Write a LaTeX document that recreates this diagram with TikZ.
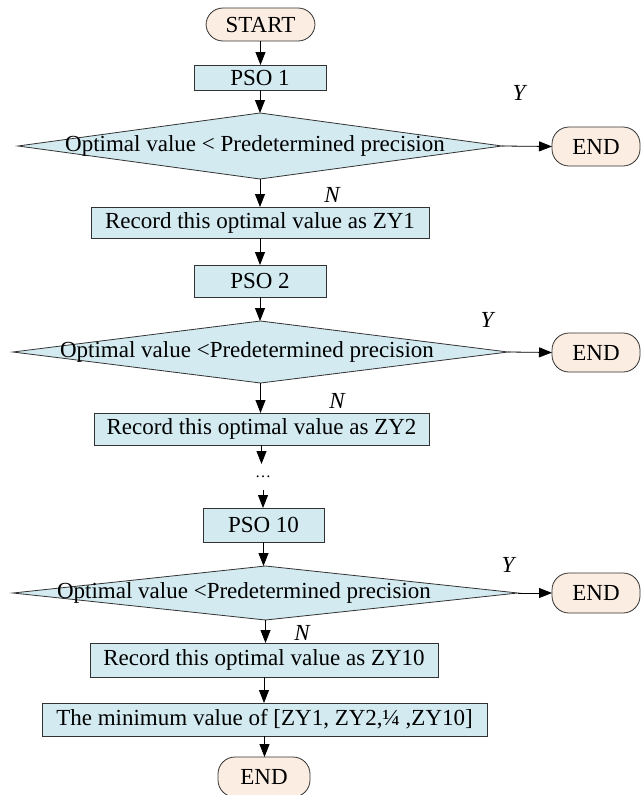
\documentclass[tikz,border=0pt]{standalone}
\usepackage{fontspec}
\setmainfont{Liberation Serif}
\usetikzlibrary{arrows.meta,shapes.geometric}
\definecolor{boxblue}{RGB}{210,234,240}
\definecolor{termpeach}{RGB}{252,237,226}
\definecolor{edge}{RGB}{50,50,50}
\begin{document}
\begin{tikzpicture}[x=1pt,y=-1pt,
  font=\fontsize{23}{26}\selectfont,
  every node/.style={inner sep=0pt, outer sep=0pt},
  procbox/.style={draw=edge, line width=0.8pt, fill=boxblue, rectangle},
  termbox/.style={draw=edge, line width=0.8pt, fill=termpeach, rectangle, rounded corners=17pt},
  decision/.style={draw=edge, line width=0.8pt, fill=boxblue, diamond},
  flowarrow/.style={draw=black, line width=0.8pt, -{Triangle[length=13pt,width=10pt]}},
  branchlbl/.style={font=\fontsize{23}{26}\selectfont\itshape}
]
\useasboundingbox (0,0) rectangle (641,795);

% main column
\node[termbox, minimum width=109pt, minimum height=33pt] (start) at (260.5,24.5) {START};
\node[procbox, minimum width=132pt, minimum height=25pt] (pso1) at (260,77.5) {PSO 1};

\node[decision, minimum width=484pt, minimum height=66pt] (d1) at (260,146) {};
\node (d1t) at (255,146) {Optimal value < Predetermined precision};
\node[termbox, minimum width=88pt, minimum height=39pt] (end1) at (596,146.5) {END};

\node[procbox, minimum width=338pt, minimum height=31pt] (rec1) at (260,222.5) {Record this optimal value as ZY1};
\node[procbox, minimum width=132pt, minimum height=32pt] (pso2) at (260,281) {PSO 2};

\node[decision, minimum width=495pt, minimum height=62pt] (d2) at (260.5,352) {};
\node (d2t) at (247,352) {Optimal value <Predetermined precision};
\node[termbox, minimum width=88pt, minimum height=39pt] (end2) at (596,352.5) {END};

\node[procbox, minimum width=335pt, minimum height=32pt] (rec2) at (261.5,429) {Record this optimal value as ZY2};

\node[minimum height=26pt, font=\fontsize{16}{18}\selectfont] (dots) at (263,477) {\ldots};

\node[procbox, minimum width=121pt, minimum height=34pt] (pso10) at (263.5,525) {PSO 10};

\node[decision, minimum width=505pt, minimum height=54pt] (d3) at (265.5,593) {};
\node (d3t) at (244,593) {Optimal value <Predetermined precision};
\node[termbox, minimum width=88pt, minimum height=40pt] (end3) at (596,593) {END};

\node[procbox, minimum width=348pt, minimum height=34pt] (rec3) at (264,660) {Record this optimal value as ZY10};
\node[procbox, minimum width=445pt, minimum height=33pt] (minv) at (264.5,719.5) {The minimum value of [ZY1, ZY2,¼ ,ZY10]};
\node[termbox, minimum width=92pt, minimum height=40pt] (endlast) at (264,777) {END};

% branch labels
\node[branchlbl] (y1) at (519,93) {Y};
\node[branchlbl] (n1) at (332,195) {N};
\node[branchlbl] (y2) at (487,320) {Y};
\node[branchlbl] (n2) at (337,401) {N};
\node[branchlbl] (y3) at (508,565) {Y};
\node[branchlbl] (n3) at (302,633) {N};

% connectors
\draw[flowarrow] (start.south) -- (start.south |- pso1.north);
\draw[flowarrow] (pso1.south) -- (pso1.south |- d1.north);
\draw[flowarrow] (d1.east) -- (end1.west);
\draw[flowarrow] (d1.south) -- (d1.south |- rec1.north);
\draw[flowarrow] (rec1.south) -- (rec1.south |- pso2.north);
\draw[flowarrow] (pso2.south) -- (pso2.south |- d2.north);
\draw[flowarrow] (d2.east) -- (end2.west);
\draw[flowarrow] (d2.south) -- (d2.south |- rec2.north);
\draw[flowarrow] (rec2.south) -- (rec2.south |- dots.north);
\draw[flowarrow] (dots.south) -- (dots.south |- pso10.north);
\draw[flowarrow] (pso10.south) -- (pso10.south |- d3.north);
\draw[flowarrow] (d3.east) -- (end3.west);
\draw[flowarrow] (d3.south) -- (d3.south |- rec3.north);
\draw[flowarrow] (rec3.south) -- (rec3.south |- minv.north);
\draw[flowarrow] (minv.south) -- (minv.south |- endlast.north);
\end{tikzpicture}
\end{document}
